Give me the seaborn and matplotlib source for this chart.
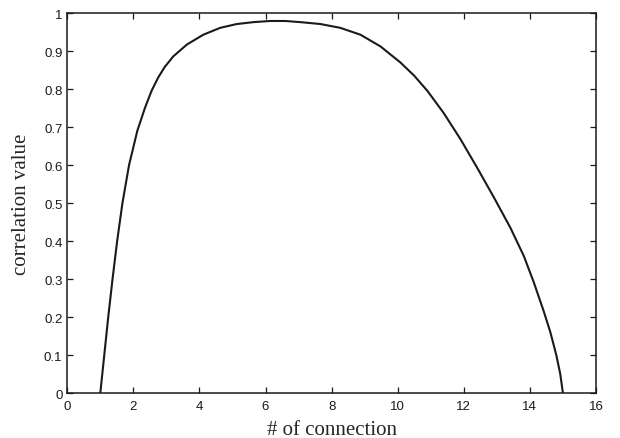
import pandas as pd
import matplotlib
matplotlib.use("Agg")
import matplotlib.pyplot as plt
import seaborn as sns

# values
connections = [1.0, 1.12, 1.24, 1.37, 1.51, 1.67, 1.87, 2.12, 2.35, 2.55,
               2.75, 2.95, 3.21, 3.62, 4.12, 4.63, 5.13, 5.64, 6.14, 6.60,
               7.05, 7.66, 8.26, 8.87, 9.48, 10.08, 10.5, 10.9, 11.39, 11.90,
               12.41, 12.91, 13.41, 13.82, 14.12, 14.42, 14.62, 14.80, 14.92, 15.0]
correlation = [0.0, 0.1, 0.2, 0.3, 0.4, 0.5, 0.6, 0.69, 0.75, 0.795,
               0.83, 0.858, 0.886, 0.917, 0.943, 0.961, 0.971, 0.976, 0.979, 0.979,
               0.976, 0.971, 0.961, 0.943, 0.912, 0.870, 0.835, 0.795, 0.737, 0.668,
               0.592, 0.515, 0.435, 0.36, 0.291, 0.215, 0.160, 0.100, 0.050, 0.0]

x_ticks = [0, 2, 4, 6, 8, 10, 12, 14, 16]
y_ticks = [0, 0.1, 0.2, 0.3, 0.4, 0.5, 0.6, 0.7, 0.8, 0.9, 1]
y_tick_labels = ["0", "0.1", "0.2", "0.3", "0.4", "0.5", "0.6", "0.7", "0.8", "0.9", "1"]

df = pd.DataFrame({"x": connections, "y": correlation})

sns.set_style("ticks")
plt.rcParams["font.family"] = ["Liberation Sans", "DejaVu Sans"]

fig = plt.figure(figsize=(6.2, 4.39), dpi=100)
ax = fig.add_axes([0.1085, 0.1025, 0.8527, 0.8656])

sns.lineplot(data=df, x="x", y="y", color="#1a1a1a", linewidth=1.5,
             estimator=None, sort=False, ax=ax)

ax.set_xlim(0, 16)
ax.set_ylim(0, 1)
ax.set_xticks(x_ticks)
ax.set_yticks(y_ticks)
ax.set_yticklabels(y_tick_labels)
ax.tick_params(direction="in", length=4, width=0.9, top=True, right=True,
               labelsize=9.5, colors="#1a1a1a", pad=3.5)
ax.tick_params(axis="x", pad=5)
for side in ax.spines.values():
    side.set_visible(True)
    side.set_linewidth(1.1)
    side.set_color("#1a1a1a")

ax.set_xlabel("# of connection", family="Liberation Serif", fontsize=15, labelpad=6)
ax.set_ylabel("correlation value", family="Liberation Serif", fontsize=15, labelpad=9)

fig.savefig("out.png", dpi=100)
